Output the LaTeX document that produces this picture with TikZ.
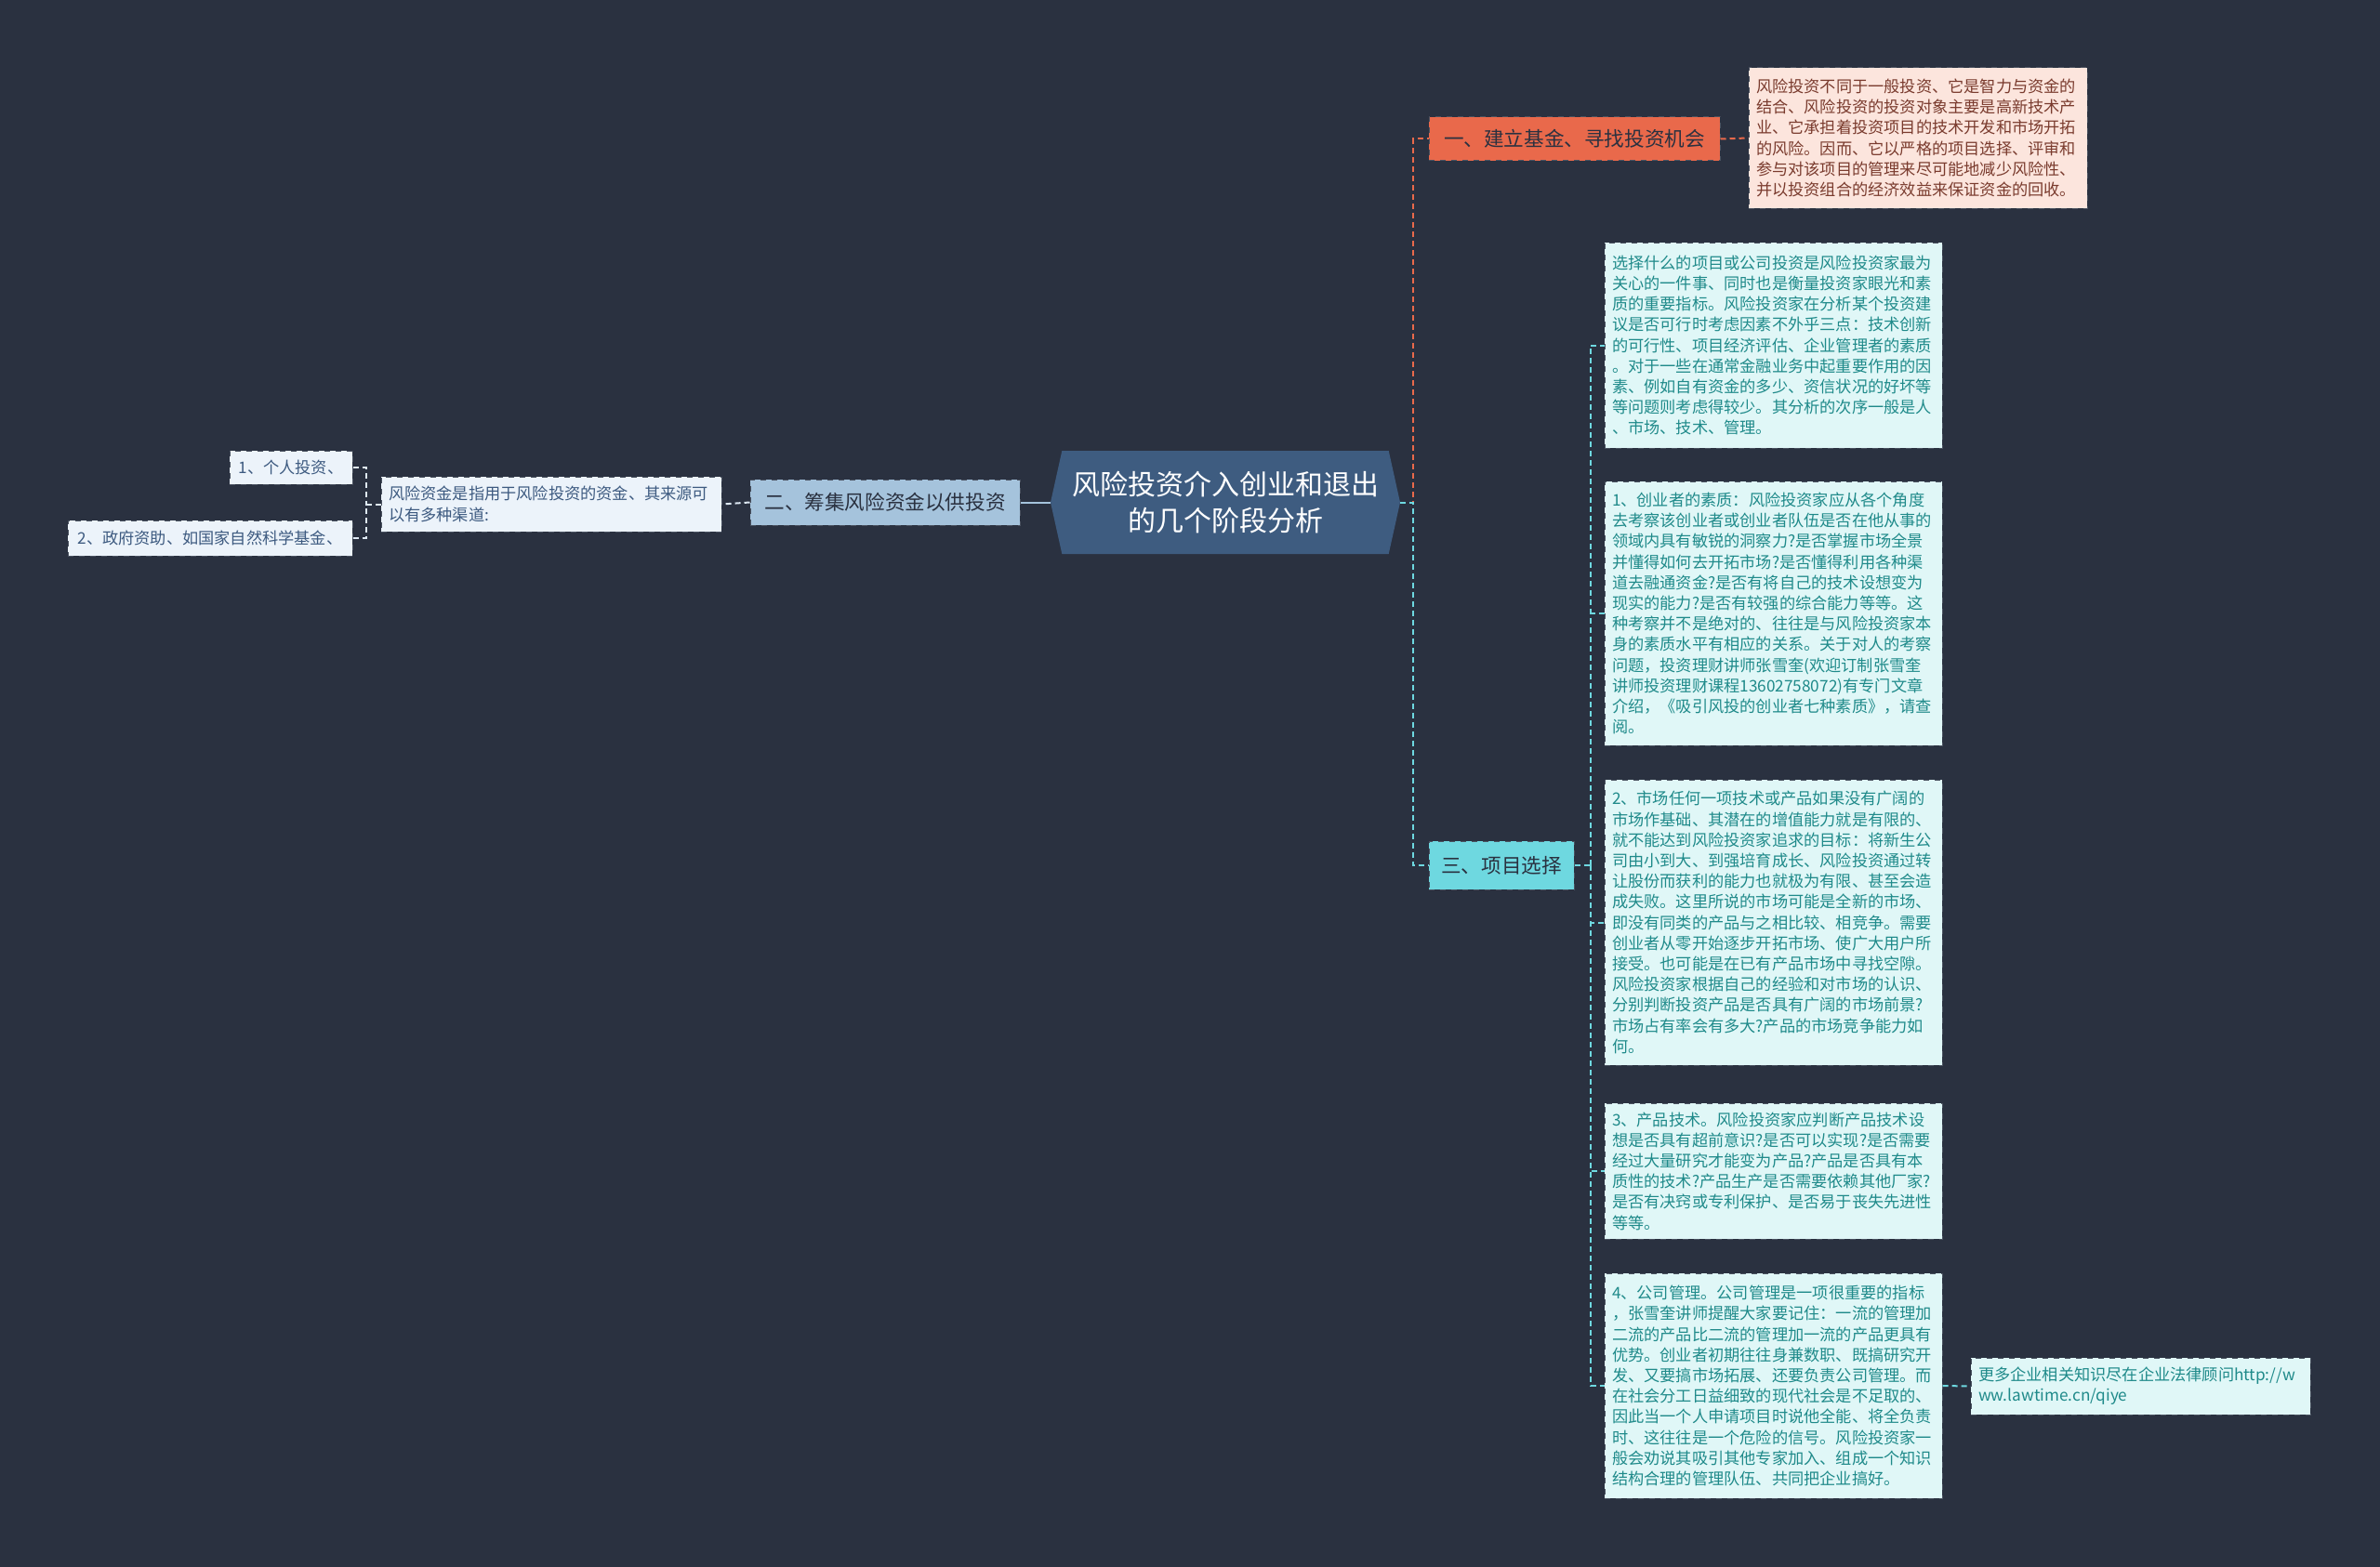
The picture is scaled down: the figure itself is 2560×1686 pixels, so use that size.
\documentclass[tikz,border=0pt]{standalone}
\usepackage{fontspec}
\setmainfont{Noto Sans CJK SC}
\usetikzlibrary{shapes.symbols}
\definecolor{bg}{HTML}{2A3140}
\definecolor{rootfill}{HTML}{3E5C80}
\definecolor{orange}{HTML}{E9694B}
\definecolor{pinkfill}{HTML}{FCE5DD}
\definecolor{pinktext}{HTML}{7A3B2E}
\definecolor{bluefill}{HTML}{A5C3DC}
\definecolor{lightblue}{HTML}{ECF3FA}
\definecolor{bluetext}{HTML}{3D5A80}
\definecolor{cyanfill}{HTML}{6ED8E0}
\definecolor{cyanlight}{HTML}{E0F7F7}
\definecolor{tealtext}{HTML}{1F8A8A}
\definecolor{darktext}{HTML}{2A3140}
\definecolor{boxline}{HTML}{4A5260}
\begin{document}
\begin{tikzpicture}[x=0.5pt,y=-0.5pt,
  rootbox/.style={signal, signal to=east and west, signal pointer angle=155,
    fill=rootfill, text=white, font=\fontsize{15}{19.5}\selectfont, align=center,
    minimum width=188pt, minimum height=55.5pt, inner sep=0pt},
  branch/.style={draw=boxline, dashed, line width=0.5pt, text=darktext,
    font=\fontsize{10.8}{13}\selectfont, align=center, inner sep=0pt},
  detail/.style={draw=boxline, dashed, line width=0.5pt, align=left,
    font=\fontsize{8.6}{11.1}\selectfont, inner xsep=4pt, inner ysep=2pt},
  conn/.style={line width=1pt, dash pattern=on 3pt off 2pt},
  c1/.style={conn, draw=orange},
  c2/.style={conn, draw=lightblue!80!bluefill},
  c3/.style={conn, draw=cyanfill},
]
\fill[bg] (0,0) rectangle (2560,1686);
\useasboundingbox (0,0) rectangle (2560,1686);

% root
\node[rootbox] (root) at (1318,540.5) {风险投资介入创业和退出\\的几个阶段分析};

% branch 1
\node[branch, fill=orange, minimum width=156.5pt, minimum height=23.5pt] (b1) at (1693.5,149.5) {一、建立基金、寻找投资机会};
\node[detail, fill=pinkfill, text=pinktext, text width=174pt, minimum height=75.5pt] (b1d) at (2063,148.5) {风险投资不同于一般投资、它是智力与资金的\\结合、风险投资的投资对象主要是高新技术产\\业、它承担着投资项目的技术开发和市场开拓\\的风险。因而、它以严格的项目选择、评审和\\参与对该项目的管理来尽可能地减少风险性、\\并以投资组合的经济效益来保证资金的回收。};

% branch 2
\node[branch, fill=bluefill, minimum width=145pt, minimum height=24.5pt] (b2) at (952,540.5) {二、筹集风险资金以供投资};
\node[detail, fill=lightblue, text=bluetext, text width=175pt, minimum height=29.5pt] (b2d) at (593,542.5) {风险资金是指用于风险投资的资金、其来源可\\以有多种渠道:};
\node[detail, fill=lightblue, text=bluetext, minimum width=66pt, minimum height=18pt, align=center] (l1) at (313,503) {1、个人投资、};
\node[detail, fill=lightblue, text=bluetext, minimum width=153pt, minimum height=19pt, align=center] (l2) at (226,579) {2、政府资助、如国家自然科学基金、};

% branch 3
\node[branch, fill=cyanfill, minimum width=78pt, minimum height=26pt] (b3) at (1615,931) {三、项目选择};
\node[detail, fill=cyanlight, text=tealtext, text width=173.5pt, minimum height=110.5pt] (d0) at (1907.5,371.5) {选择什么的项目或公司投资是风险投资家最为\\关心的一件事、同时也是衡量投资家眼光和素\\质的重要指标。风险投资家在分析某个投资建\\议是否可行时考虑因素不外乎三点：技术创新\\的可行性、项目经济评估、企业管理者的素质\\。对于一些在通常金融业务中起重要作用的因\\素、例如自有资金的多少、资信状况的好坏等\\等问题则考虑得较少。其分析的次序一般是人\\、市场、技术、管理。};
\node[detail, fill=cyanlight, text=tealtext, text width=173.5pt, minimum height=142pt] (d1) at (1907.5,660) {1、创业者的素质：风险投资家应从各个角度\\去考察该创业者或创业者队伍是否在他从事的\\领域内具有敏锐的洞察力?是否掌握市场全景\\并懂得如何去开拓市场?是否懂得利用各种渠\\道去融通资金?是否有将自己的技术设想变为\\现实的能力?是否有较强的综合能力等等。这\\种考察并不是绝对的、往往是与风险投资家本\\身的素质水平有相应的关系。关于对人的考察\\问题，投资理财讲师张雪奎(欢迎订制张雪奎\\讲师投资理财课程13602758072)有专门文章\\介绍，《吸引风投的创业者七种素质》，请查\\阅。};
\node[detail, fill=cyanlight, text=tealtext, text width=173.5pt, minimum height=153.5pt] (d2) at (1907.5,992.5) {2、市场任何一项技术或产品如果没有广阔的\\市场作基础、其潜在的增值能力就是有限的、\\就不能达到风险投资家追求的目标：将新生公\\司由小到大、到强培育成长、风险投资通过转\\让股份而获利的能力也就极为有限、甚至会造\\成失败。这里所说的市场可能是全新的市场、\\即没有同类的产品与之相比较、相竞争。需要\\创业者从零开始逐步开拓市场、使广大用户所\\接受。也可能是在已有产品市场中寻找空隙。\\风险投资家根据自己的经验和对市场的认识、\\分别判断投资产品是否具有广阔的市场前景?\\市场占有率会有多大?产品的市场竞争能力如\\何。};
\node[detail, fill=cyanlight, text=tealtext, text width=173.5pt, minimum height=73pt] (d3) at (1907.5,1260) {3、产品技术。风险投资家应判断产品技术设\\想是否具有超前意识?是否可以实现?是否需要\\经过大量研究才能变为产品?产品是否具有本\\质性的技术?产品生产是否需要依赖其他厂家?\\是否有决窍或专利保护、是否易于丧失先进性\\等等。};
\node[detail, fill=cyanlight, text=tealtext, text width=173.5pt, minimum height=121pt] (d4) at (1907.5,1491) {4、公司管理。公司管理是一项很重要的指标\\，张雪奎讲师提醒大家要记住：一流的管理加\\二流的产品比二流的管理加一流的产品更具有\\优势。创业者初期往往身兼数职、既搞研究开\\发、又要搞市场拓展、还要负责公司管理。而\\在社会分工日益细致的现代社会是不足取的、\\因此当一个人申请项目时说他全能、将全负责\\时、这往往是一个危险的信号。风险投资家一\\般会劝说其吸引其他专家加入、组成一个知识\\结构合理的管理队伍、共同把企业搞好。};
\node[detail, fill=cyanlight, text=tealtext, text width=174.5pt, minimum height=30.5pt] (d4c) at (2302.5,1491.5) {更多企业相关知识尽在企业法律顾问http://w\\ww.lawtime.cn/qiye};

% connectors
\coordinate (rj) at ([xshift=7pt]root.east);
\draw[c1] (root.east) -- (rj) |- (b1.west);
\draw[c3] (root.east) -- (rj) |- (b3.west);
\draw[c1] (b1.east) -- (b1d.west);
\draw[line width=1pt, draw=bluefill] (root.west) -- (b2.east);
\draw[c2] (b2.west) -- (b2d.east);
\coordinate (lj) at ([xshift=-8pt]b2d.west);
\draw[c2] (b2d.west) -- (lj);
\draw[c2] (l1.east) -| (lj);
\draw[c2] (l2.east) -| (lj);
\coordinate (sj) at ([xshift=8.5pt]b3.east);
\draw[c3] (b3.east) -- (sj);
\foreach \d in {d0,d1,d2,d3,d4} \draw[c3] (sj) |- (\d.west);
\draw[c3] (d4.east) -- (d4c.west);
\end{tikzpicture}
\end{document}
